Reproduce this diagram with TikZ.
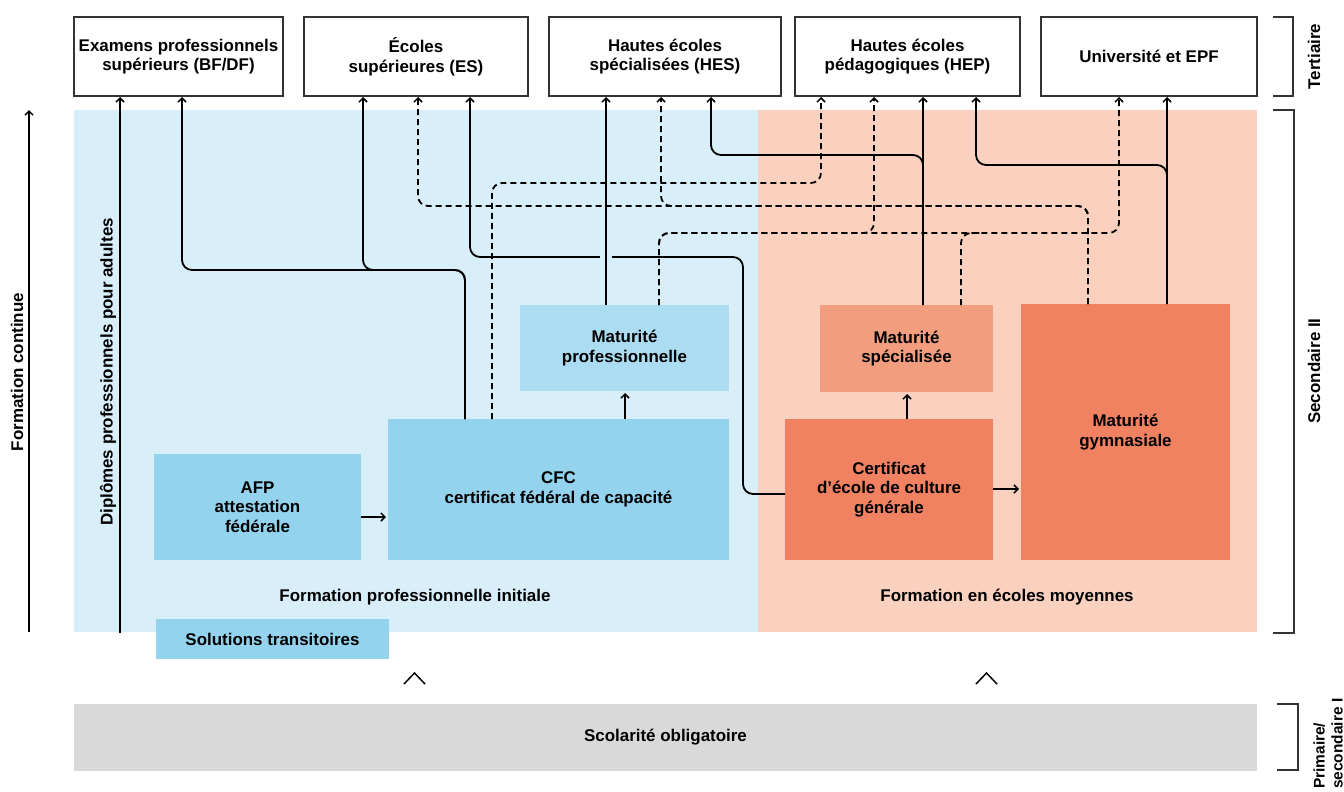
\documentclass[tikz,border=0pt]{standalone}
\usepackage{fontspec}
\setmainfont{Liberation Sans}
\usetikzlibrary{arrows.meta}
\definecolor{bgblue}{HTML}{D8EEF9}
\definecolor{boxblue}{HTML}{94D3EE}
\definecolor{mpblue}{HTML}{ABDCF2}
\definecolor{bgsalmon}{HTML}{FAD1BF}
\definecolor{msorange}{HTML}{F29E7E}
\definecolor{boxorange}{HTML}{F08262}
\definecolor{scolgray}{HTML}{D9D9D9}
\definecolor{framegray}{HTML}{333333}
\tikzset{
  txt/.style={font=\fontsize{17}{19.7}\selectfont\bfseries, align=center, text=black},
  topbox/.style={txt, draw=framegray, line width=1.2bp, fill=white, minimum height=79bp, inner sep=0pt, outer sep=0pt},
  fillbox/.style={txt, inner sep=0pt, outer sep=0pt},
  conn/.style={line width=1.8bp, rounded corners=10bp, shorten >=1bp, -{Straight Barb[length=4bp,width=8bp,line width=1.5bp]}},
  dconn/.style={conn, dash pattern=on 6bp off 4bp},
  dline/.style={line width=1.8bp, rounded corners=10bp, dash pattern=on 6bp off 4bp},
  sarrow/.style={line width=1.6bp, shorten >=2bp, -{Straight Barb[length=4bp,width=8bp,line width=1.5bp]}},
  bracket/.style={draw=framegray, line width=1.3bp},
  chev/.style={line width=1.5bp}
}
\begin{document}
\begin{tikzpicture}[x=1bp,y=-1bp]
\useasboundingbox (0,0) rectangle (1344,791);
% backgrounds
\fill[bgblue] (74,110) rectangle (758,632);
\fill[bgsalmon] (758,110) rectangle (1257,632);
\node[txt] (lfpi) at (415,597) {Formation professionnelle initiale};
\node[txt] (lfem) at (1007,597) {Formation en écoles moyennes};
% top boxes
\node[topbox, minimum width=209bp] (exa) at (178.5,56.5) {Examens professionnels\\supérieurs (BF/DF)};
\node[topbox, minimum width=224bp] (es) at (416,56.5) {Écoles\\supérieures (ES)};
\node[topbox, minimum width=232bp] (hes) at (665,56.5) {Hautes écoles\\spécialisées (HES)};
\node[topbox, minimum width=225bp] (hep) at (907.5,56.5) {Hautes écoles\\pédagogiques (HEP)};
\node[topbox, minimum width=216bp] (uni) at (1149,56.5) {Université et EPF};
% inner boxes
\node[fillbox, fill=boxblue, minimum width=207bp, minimum height=106bp] (afp) at (257.5,507) {AFP\\attestation\\fédérale};
\node[fillbox, fill=boxblue, minimum width=341bp, minimum height=141bp] (cfc) at (558.5,489.5) {CFC\\certificat fédéral de capacité};
\node[fillbox, fill=mpblue, minimum width=209bp, minimum height=86bp] (mp) at (624.5,348) {Maturité\\professionnelle};
\node[fillbox, fill=msorange, minimum width=173bp, minimum height=87bp] (ms) at (906.5,348.5) {Maturité\\spécialisée};
\node[fillbox, fill=boxorange, minimum width=208bp, minimum height=141bp] (cec) at (889,489.5) {Certificat\\d’école de culture\\générale};
\node[fillbox, fill=boxorange, minimum width=209bp, minimum height=256bp] (mg) at (1125.5,432) {Maturité\\gymnasiale};
\node[fillbox, fill=boxblue, minimum width=233bp, minimum height=40bp] (sol) at (272.5,639) {Solutions transitoires};
\node[fillbox, fill=scolgray, minimum width=1183bp, minimum height=67bp] (scol) at (665.5,737.5) {Scolarité obligatoire};
% side labels
\coordinate (fcbot) at (29,632);
\coordinate (fctop) at (29,110);
\coordinate (dipbot) at (120,633);
\draw[sarrow, shorten >=0bp] (fcbot) -- (fctop);
\node[txt, rotate=90] (lfc) at (17,372) {Formation continue};
\node[txt, rotate=90] (ldip) at (108,372) {Diplômes professionnels pour adultes};
\draw[conn] (dipbot) -- (exa.south -| 120,0);
% solid connectors
\draw[conn] (cfc.north -| 465,0) -- (465,270) -- (182,270) -- (exa.south -| 182,0);
\draw[conn] (cfc.north -| 465,0) -- (465,270) -- (363,270) -- (es.south -| 363,0);
\draw[conn] (cec.west |- 0,494) -- (743,494) -- (743,257) -- (470,257) -- (es.south -| 470,0);
\fill[bgblue] (600,252) rectangle (612,262);
\draw[conn] (mp.north -| 606,0) -- (hes.south -| 606,0);
\draw[conn] (ms.north -| 923,0) -- (hep.south -| 923,0);
\draw[conn] (ms.north -| 923,0) -- (923,155) -- (711,155) -- (hes.south -| 711,0);
\draw[conn] (mg.north -| 1167,0) -- (uni.south -| 1167,0);
\draw[conn] (mg.north -| 1167,0) -- (1167,165) -- (976,165) -- (hep.south -| 976,0);
% dashed connectors
\draw[dconn] (mg.north -| 1088,0) -- (1088,206) -- (418,206) -- (es.south -| 418,0);
\draw[dconn] (mg.north -| 1088,0) -- (1088,206) -- (661,206) -- (hes.south -| 661,0);
\draw[dconn] (cfc.north -| 492,0) -- (492,183) -- (821,183) -- (hep.south -| 821,0);
\draw[dconn] (mp.north -| 659,0) -- (659,233) -- (874,233) -- (hep.south -| 874,0);
\draw[dconn] (mp.north -| 659,0) -- (659,233) -- (1119,233) -- (uni.south -| 1119,0);
\draw[dline] (ms.north -| 961,0) -- (961,233) -- (985,233);
% short arrows
\draw[sarrow] (afp.east |- 0,517) -- (cfc.west |- 0,517);
\draw[sarrow] (cfc.north -| 625,0) -- (mp.south -| 625,0);
\draw[sarrow] (cec.north -| 907,0) -- (ms.south -| 907,0);
\draw[sarrow] (cec.east |- 0,489) -- (mg.west |- 0,489);
% chevrons
\draw[chev] (404,684) -- (414.5,673) -- (425,684);
\draw[chev] (976,684) -- (986.5,673) -- (997,684);
% brackets
\draw[bracket] (1273,17) -- (1293,17) -- (1293,96) -- (1273,96);
\draw[bracket] (1273,110) -- (1294,110) -- (1294,633) -- (1273,633);
\draw[bracket] (1277,704) -- (1298,704) -- (1298,770) -- (1277,770);
\node[txt, rotate=90] (lter) at (1314,56.5) {Tertiaire};
\node[txt, rotate=90] (lsec) at (1314,371) {Secondaire II};
\node[txt, font=\fontsize{15.5}{18}\selectfont\bfseries, rotate=90, align=left, anchor=south west, inner sep=0pt] (lprim) at (1343,789) {Primaire/\\secondaire I};
\end{tikzpicture}
\end{document}
